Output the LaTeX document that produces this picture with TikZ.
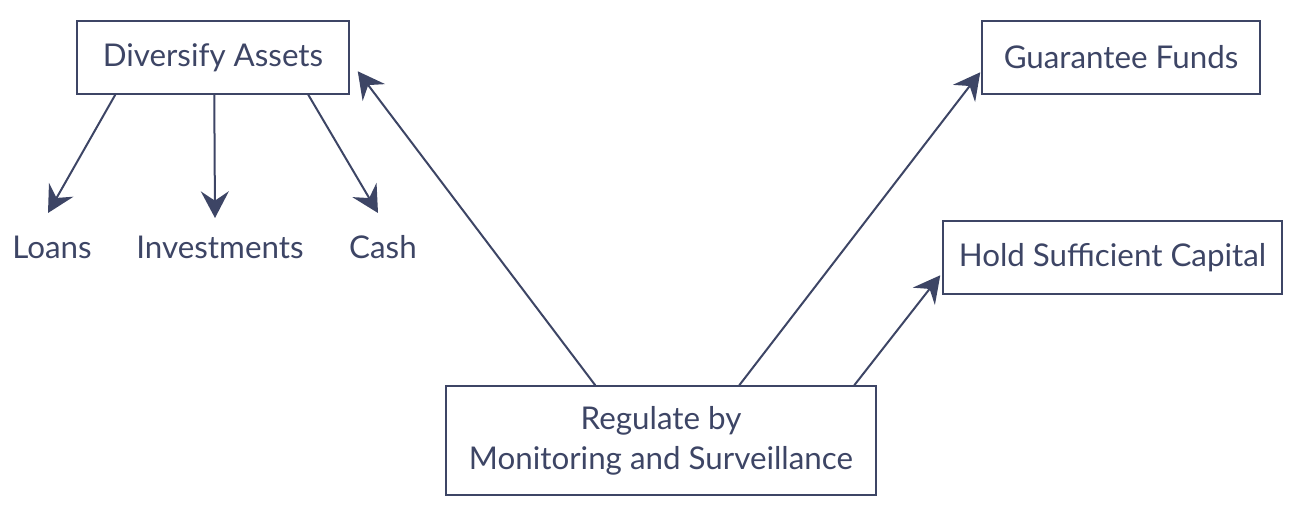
\documentclass[tikz,border=0pt]{standalone}
\usepackage{fontspec}
\setmainfont{Lato}
\usetikzlibrary{arrows.meta,calc}
\definecolor{ink}{HTML}{3D4565}
\begin{document}
\begin{tikzpicture}[x=0.75pt,y=-0.75pt,
  box/.style={draw=ink,line width=1.1pt,text=ink,inner sep=0pt,align=center,
    font=\fontsize{23.5}{30}\selectfont},
  lbl/.style={text=ink,inner sep=0pt,font=\fontsize{23.5}{30}\selectfont},
  arr/.style={draw=ink,line width=1.5pt,-{Stealth[length=20pt,width=21pt,inset=7pt]}}]
\useasboundingbox (0,0) rectangle (1294,510);
\node[box,minimum width=204pt,minimum height=54.75pt] (dA) at (213,57.5) {Diversify Assets};
\node[box,minimum width=208.5pt,minimum height=54.75pt] (gF) at (1121,57.5) {Guarantee Funds};
\node[box,minimum width=254.25pt,minimum height=54.75pt] (hC) at (1112.5,257.5) {Hold Sufficient Capital};
\node[box,minimum width=322.5pt,minimum height=81.75pt] (rM) at (661,440.5) {Regulate by\\Monitoring and Surveillance};
\node[lbl] (loans) at (52,247) {Loans};
\node[lbl] (inv) at (220,247) {Investments};
\node[lbl] (cash) at (383,247) {Cash};
\draw[arr] ($(dA.south west)+(39,0)$) -- ($(loans)+(-4,-34)$);
\draw[arr] ($(dA.south west)+(138,0)$) -- ($(inv)+(-5,-29)$);
\draw[arr] ($(dA.south west)+(232,0)$) -- ($(cash)+(-5,-34)$);
\draw[arr] ($(rM.north west)+(150,0)$) -- ($(dA.north east)+(8,51)$);
\draw[arr] ($(rM.north west)+(294,0)$) -- ($(gF.north west)+(-1,52)$);
\draw[arr] ($(rM.north west)+(409,0)$) -- ($(hC.north west)+(-2,55)$);
\end{tikzpicture}
\end{document}
